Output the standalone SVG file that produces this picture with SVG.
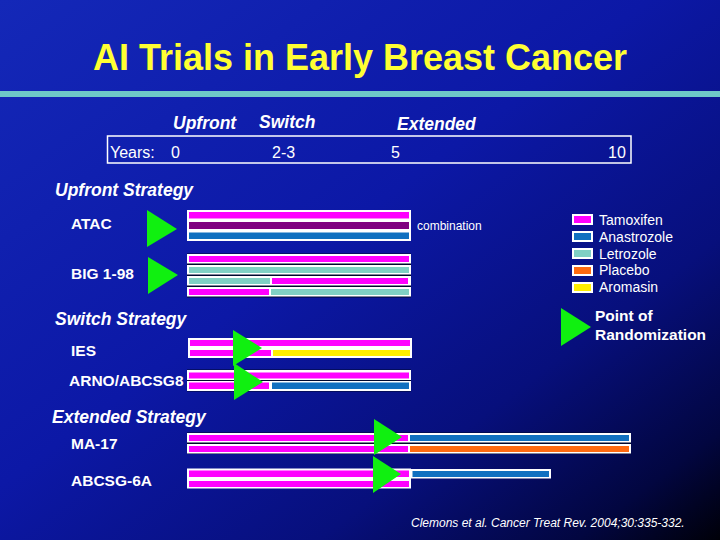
<svg xmlns="http://www.w3.org/2000/svg" width="720" height="540" viewBox="0 0 720 540">
<defs>
<linearGradient id="bg" x1="0" y1="0" x2="1" y2="1">
<stop offset="0" stop-color="#1428b8"/>
<stop offset="0.45" stop-color="#0c18a6"/>
<stop offset="0.72" stop-color="#070f7c"/>
<stop offset="0.9" stop-color="#020640"/>
<stop offset="1" stop-color="#000008"/>
</linearGradient>
<style>
text{font-family:"Liberation Sans",Arial,sans-serif;fill:#ffffff}
.title{font-size:36px;font-weight:bold;fill:#ffff33}
.hdr{font-size:17.5px;font-weight:bold;font-style:italic}
.yr{font-size:16px}
.strat{font-size:17.5px;font-weight:bold;font-style:italic}
.trial{font-size:15.5px;font-weight:bold}
.leg{font-size:14px}
.pt{font-size:15.5px;font-weight:bold}
.small{font-size:12px}
.cite{font-size:12px;font-style:italic}
.wb{fill:#ffffff}
.dk{fill:#00082e}
.tam{fill:#ff00ff}
.comb{fill:#800080}
.ana{fill:#1070c0}
.let{fill:#80d0c4}
.pla{fill:#ff6a10}
.aro{fill:#ffee00}
.tri{fill:#10f010}
</style>
</defs>
<rect x="0" y="0" width="720" height="540" fill="url(#bg)"/>

<g id="title">
<text class="title" x="93" y="70" textLength="534" lengthAdjust="spacingAndGlyphs">AI Trials in Early Breast Cancer</text>
<rect x="0" y="91" width="720" height="6" fill="#6ec8c8"/>
</g>

<g id="header">
<text class="hdr" x="173" y="129">Upfront</text>
<text class="hdr" x="259" y="128">Switch</text>
<text class="hdr" x="397" y="130">Extended</text>
</g>

<g id="timeline">
<rect x="107.5" y="136" width="523.5" height="27" fill="none" stroke="#ffffff" stroke-width="1.5"/>
<text class="yr" x="110" y="158">Years:</text>
<text class="yr" x="171" y="158">0</text>
<text class="yr" x="272" y="158">2-3</text>
<text class="yr" x="391" y="158">5</text>
<text class="yr" x="608" y="158">10</text>
</g>

<g id="upfront-strategy">
<text class="strat" x="55" y="196">Upfront Strategy</text>
</g>

<g id="atac">
<text class="trial" x="71" y="229">ATAC</text>
<rect class="wb" x="187" y="210" width="224" height="31"/>
<rect class="tam" x="189" y="212" width="220" height="6.5"/>
<rect class="comb" x="189" y="222" width="220" height="7"/>
<rect class="ana" x="189" y="232.5" width="220" height="6.5"/>
<polygon class="tri" points="147,210 147,247 177,229"/>
<text class="small" x="417" y="230">combination</text>
</g>

<g id="big-1-98">
<text class="trial" x="71" y="279">BIG 1-98</text>
<rect class="dk" x="187" y="253.5" width="224" height="44"/>
<rect class="wb" x="187" y="254" width="224" height="9.5"/>
<rect class="wb" x="187" y="265" width="224" height="9.5"/>
<rect class="wb" x="187" y="276" width="224" height="9.5"/>
<rect class="wb" x="187" y="287" width="224" height="9.5"/>
<rect class="tam" x="189" y="256" width="220" height="6"/>
<rect class="let" x="189" y="267" width="220" height="6"/>
<rect class="let" x="189" y="278" width="81" height="6"/>
<rect class="tam" x="272" y="278" width="136" height="6"/>
<rect class="tam" x="189" y="289" width="80" height="6"/>
<rect class="let" x="271" y="289" width="138" height="6"/>
<polygon class="tri" points="148,257 148,294 178,275"/>
</g>

<g id="switch-strategy">
<text class="strat" x="55" y="325">Switch Strategy</text>
</g>

<g id="ies">
<text class="trial" x="71" y="356">IES</text>
<rect class="wb" x="188" y="338" width="224" height="20"/>
<rect class="tam" x="190" y="340" width="220" height="6"/>
<rect class="tam" x="190" y="350" width="81" height="6"/>
<rect class="aro" x="273" y="350" width="137" height="6"/>
<polygon class="tri" points="233,330 233,366 262,348"/>
</g>

<g id="arno">
<text class="trial" x="69" y="386">ARNO/ABCSG8</text>
<rect class="dk" x="187" y="369.5" width="224" height="22"/>
<rect class="wb" x="187" y="370" width="224" height="10"/>
<rect class="wb" x="187" y="381" width="224" height="10"/>
<rect class="tam" x="189" y="372.5" width="220" height="6"/>
<rect class="tam" x="189" y="382.5" width="80" height="6.5"/>
<rect class="ana" x="272" y="382.5" width="137" height="6.5"/>
<polygon class="tri" points="234,363 234,400 263,382"/>
</g>

<g id="extended-strategy">
<text class="strat" x="52" y="423">Extended Strategy</text>
</g>

<g id="ma-17">
<text class="trial" x="71" y="449">MA-17</text>
<rect class="dk" x="187" y="432.5" width="444" height="21.5"/>
<rect class="wb" x="187" y="433" width="444" height="9.5"/>
<rect class="wb" x="187" y="444" width="444" height="9.5"/>
<rect class="tam" x="189" y="435" width="219" height="6"/>
<rect class="ana" x="410" y="435" width="219" height="6"/>
<rect class="tam" x="189" y="446" width="219" height="6"/>
<rect class="pla" x="410" y="446" width="219" height="6"/>
<polygon class="tri" points="374,419 374,455 402,437"/>
</g>

<g id="abcsg-6a">
<text class="trial" x="71" y="486">ABCSG-6A</text>
<rect class="wb" x="187" y="468.5" width="224" height="20"/>
<rect class="wb" x="410.5" y="469" width="140.5" height="9.5"/>
<rect class="tam" x="189" y="470.5" width="220" height="6.5"/>
<rect class="tam" x="189" y="481" width="220" height="6"/>
<rect class="ana" x="412.5" y="471" width="136.5" height="6"/>
<polygon class="tri" points="373,456 373,493 401,474"/>
</g>

<g id="legend">
<rect class="wb" x="572" y="214" width="21" height="11"/>
<rect class="tam" x="574" y="216" width="17" height="7"/>
<text class="leg" x="599" y="225">Tamoxifen</text>
<rect class="wb" x="572" y="231" width="21" height="11"/>
<rect class="ana" x="574" y="233" width="17" height="7"/>
<text class="leg" x="599" y="242">Anastrozole</text>
<rect class="wb" x="572" y="248" width="21" height="11"/>
<rect class="let" x="574" y="250" width="17" height="7"/>
<text class="leg" x="599" y="258.5">Letrozole</text>
<rect class="wb" x="572" y="265" width="21" height="11"/>
<rect class="pla" x="574" y="267" width="17" height="7"/>
<text class="leg" x="599" y="275">Placebo</text>
<rect class="wb" x="572" y="282" width="21" height="11"/>
<rect class="aro" x="574" y="284" width="17" height="7"/>
<text class="leg" x="599" y="292">Aromasin</text>
</g>

<g id="randomization-key">
<polygon class="tri" points="561,308 561,346 591,327"/>
<text class="pt" x="595" y="321">Point of</text>
<text class="pt" x="595" y="340">Randomization</text>
</g>

<g id="citation">
<text class="cite" x="411" y="527">Clemons et al. Cancer Treat Rev. 2004;30:335-332.</text>
</g>
</svg>
